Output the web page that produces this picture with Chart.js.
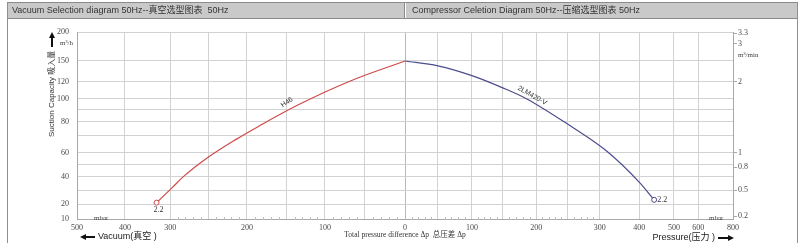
<!DOCTYPE html>
<html>
<head>
<meta charset="utf-8">
<title>Vacuum / Compressor selection diagram 50Hz</title>
<script src="https://cdn.jsdelivr.net/npm/chart.js@4.4.1/dist/chart.umd.min.js"></script>
<style>
  html, body { margin: 0; padding: 0; background: #fff; }
  #wrap { width: 800px; height: 243px; position: relative; }
  canvas { display: block; }
</style>
</head>
<body>
<div id="wrap"><canvas id="chart" width="800" height="243"></canvas></div>
<script>
// --- data ---
// vacuum side (left half): mbar below atmosphere, flow in m3/h
const redVacuum = [330, 297, 283, 251, 214, 185, 137, 69, 0];
const redFlow = [21, 32, 40, 56, 68, 77, 94, 121, 150];
// pressure side (right half): mbar over atmosphere, flow in m3/h
const bluePressure = [0, 50, 100, 150, 186, 248, 318, 400, 443];
const blueFlow = [150, 143, 129, 113, 100, 79, 61, 36, 23];

const redName = 'H46';
const blueName = '2LM420-V';
const motorPower = '2.2';

// axis ticks (vacuum drawn as negative x)
const xGridValues = [-500, -400, -300, -250, -200, -150, -100, -50, 0, 50, 100, 150, 200, 250, 300, 400, 500, 600, 800];
const xLabelValues = [-500, -400, -300, -200, -100, 0, 100, 200, 300, 400, 500, 600, 800];
const yGridValues = [10, 20, 30, 40, 50, 60, 70, 80, 90, 100, 120, 150, 200];
const yLabelValues = [10, 20, 40, 60, 80, 100, 120, 150, 200];
const y2LabelValues = [0.2, 0.5, 0.8, 1, 2, 3, 3.3];

// the printed axes are not linear: value -> fraction of the axis length
const xAxisShape = [
  [-500, 0], [-400, 0.073], [-300, 0.142], [-250, 0.2], [-200, 0.259], [-150, 0.32],
  [-100, 0.378], [-50, 0.439], [0, 0.5], [50, 0.55], [100, 0.602], [150, 0.649],
  [200, 0.7], [250, 0.748], [300, 0.797], [400, 0.857], [500, 0.91], [600, 0.947], [800, 1]
];
const yAxisShape = [
  [10, 0], [20, 0.08], [30, 0.155], [40, 0.225], [50, 0.289], [60, 0.353], [70, 0.444],
  [80, 0.519], [90, 0.583], [100, 0.642], [120, 0.733], [150, 0.845], [200, 1]
];
// right axis is the same scale in m3/min
const y2AxisShape = yAxisShape.map(([v, f]) => [v / 60, f]);
const axisShapes = { x: xAxisShape, y: yAxisShape, y2: y2AxisShape };

// small ticks along the bottom axis
const xMinorTicks = [];
for (let v = -290; v < 300; v += 10) {
  if (v % 50 !== 0) xMinorTicks.push(v);
}

function interp(knots, v) {
  if (v <= knots[0][0]) return knots[0][1];
  for (let i = 1; i < knots.length; i++) {
    const [v0, f0] = knots[i - 1];
    const [v1, f1] = knots[i];
    if (v <= v1) return f0 + (v - v0) / (v1 - v0) * (f1 - f0);
  }
  return knots[knots.length - 1][1];
}

/**
 * Piecewise linear scale, so the hand-drawn axes can be followed
 */
class PiecewiseScale extends Chart.Scale {
  determineDataLimits() {
    const k = axisShapes[this.id];
    this.min = k[0][0];
    this.max = k[k.length - 1][0];
  }
  buildTicks() {
    const values = this.id === 'x' ? xGridValues : this.id === 'y' ? yGridValues : y2LabelValues;
    return values.map(value => ({ value }));
  }
  getLabelForValue(value) {
    return String(value);
  }
  getPixelForValue(value) {
    return this.getPixelForDecimal(interp(axisShapes[this.id], value));
  }
  getValueForPixel(pixel) {
    const inverse = axisShapes[this.id].map(([v, f]) => [f, v]);
    return interp(inverse, this.getDecimalForPixel(pixel));
  }
}
PiecewiseScale.id = 'piecewise';
PiecewiseScale.defaults = {};
Chart.register(PiecewiseScale);

const SANS = '"Liberation Sans", Arial, "Noto Sans CJK SC", sans-serif';
const SERIF = '"Liberation Serif", "Times New Roman", "Noto Sans CJK SC", serif';
const GRID = '#d2d2d2';
const TICK_TEXT = '#4a4a4a';

function arrow(ctx, x1, y1, x2, y2) {
  const a = Math.atan2(y2 - y1, x2 - x1);
  ctx.save();
  ctx.strokeStyle = '#111';
  ctx.fillStyle = '#111';
  ctx.lineWidth = 2;
  ctx.beginPath();
  ctx.moveTo(x1, y1);
  ctx.lineTo(x2 - Math.cos(a) * 4, y2 - Math.sin(a) * 4);
  ctx.stroke();
  ctx.beginPath();
  ctx.moveTo(x2, y2);
  ctx.lineTo(x2 - Math.cos(a) * 6 + Math.sin(a) * 3, y2 - Math.sin(a) * 6 - Math.cos(a) * 3);
  ctx.lineTo(x2 - Math.cos(a) * 6 - Math.sin(a) * 3, y2 - Math.sin(a) * 6 + Math.cos(a) * 3);
  ctx.closePath();
  ctx.fill();
  ctx.restore();
}

// frame, title bars and the loose texts around the plot
const decorations = {
  id: 'decorations',
  beforeDraw(chart) {
    const { ctx } = chart;
    ctx.save();
    ctx.fillStyle = '#fff';
    ctx.fillRect(0, 0, chart.width, chart.height);

    // outer frame
    ctx.strokeStyle = '#8f8f8f';
    ctx.lineWidth = 1;
    ctx.beginPath();
    ctx.moveTo(7.5, 2); ctx.lineTo(7.5, 243);
    ctx.moveTo(797.5, 2); ctx.lineTo(797.5, 243);
    ctx.stroke();

    // title bars
    ctx.fillStyle = '#c9c9c9';
    ctx.fillRect(8, 2, 396, 17);
    ctx.fillRect(406, 2, 391, 17);
    ctx.strokeStyle = '#8a8a8a';
    ctx.beginPath();
    ctx.moveTo(7, 2.5); ctx.lineTo(798, 2.5);
    ctx.moveTo(7, 18.5); ctx.lineTo(798, 18.5);
    ctx.moveTo(404.5, 2); ctx.lineTo(404.5, 19);
    ctx.stroke();

    ctx.fillStyle = '#333';
    ctx.font = '9px ' + SANS;
    ctx.textBaseline = 'middle';
    ctx.fillText('Vacuum Selection diagram 50Hz--真空选型图表  50Hz', 12, 11);
    ctx.fillText('Compressor Celetion Diagram 50Hz--压缩选型图表 50Hz', 412, 11);
    ctx.restore();
  },
  afterDraw(chart) {
    const { ctx, chartArea } = chart;
    const xs = chart.scales.x;
    const ys = chart.scales.y;
    ctx.save();

    // minor ticks on the bottom axis
    ctx.strokeStyle = '#bbbbbb';
    ctx.lineWidth = 1;
    ctx.beginPath();
    xMinorTicks.forEach(v => {
      const px = Math.round(xs.getPixelForValue(v)) + 0.5;
      ctx.moveTo(px, chartArea.bottom - 2);
      ctx.lineTo(px, chartArea.bottom + 1);
    });
    ctx.stroke();

    // units
    ctx.fillStyle = '#444';
    ctx.font = '7px ' + SERIF;
    ctx.textBaseline = 'middle';
    ctx.textAlign = 'left';
    ctx.fillText('m³/h', 60, 43);
    ctx.fillText('m³/min', 738, 55);
    ctx.fillText('mbar', 94, 218);
    ctx.fillText('mbar', 709, 218);

    // left axis title with arrow
    ctx.save();
    ctx.translate(52, 137);
    ctx.rotate(-Math.PI / 2);
    ctx.fillStyle = '#333';
    ctx.font = '8px ' + SANS;
    ctx.textAlign = 'left';
    ctx.fillText('Suction Capacity 吸入量', 0, 0);
    ctx.restore();
    arrow(ctx, 52, 47, 52, 32);

    // direction hints under the axis
    ctx.fillStyle = '#222';
    ctx.font = '9px ' + SANS;
    ctx.textAlign = 'left';
    ctx.fillText('Vacuum(真空 )', 98, 237);
    arrow(ctx, 95, 237, 80, 237);
    ctx.textAlign = 'right';
    ctx.fillText('Pressure(压力 )', 715, 238);
    arrow(ctx, 718, 238, 734, 238);

    // motor power at the curve ends
    ctx.fillStyle = '#333';
    ctx.font = '8px ' + SERIF;
    ctx.textAlign = 'left';
    const rx = xs.getPixelForValue(-redVacuum[0]);
    const ry = ys.getPixelForValue(redFlow[0]);
    ctx.fillText(motorPower, rx - 3, ry + 7);
    const last = bluePressure.length - 1;
    const bx = xs.getPixelForValue(bluePressure[last]);
    const by = ys.getPixelForValue(blueFlow[last]);
    ctx.fillText(motorPower, bx + 3, by);

    // curve names, laid along the curves
    ctx.font = '7px ' + SANS;
    ctx.fillStyle = '#333';
    ctx.save();
    ctx.translate(xs.getPixelForValue(-150), ys.getPixelForValue(97));
    ctx.rotate(-0.6);
    ctx.textAlign = 'center';
    ctx.fillText(redName, 0, 0);
    ctx.restore();
    ctx.save();
    ctx.translate(xs.getPixelForValue(194), ys.getPixelForValue(104));
    ctx.rotate(0.52);
    ctx.textAlign = 'center';
    ctx.fillText(blueName, 0, 0);
    ctx.restore();

    ctx.restore();
  }
};

const endMarker = (lastIndex) => (c) => (c.dataIndex === lastIndex ? 2.5 : 0);

new Chart(document.getElementById('chart'), {
  type: 'line',
  data: {
    datasets: [
      {
        label: redName,
        data: redVacuum.map((v, i) => ({ x: -v, y: redFlow[i] })),
        borderColor: '#cf4a4a',
        borderWidth: 1.2,
        backgroundColor: '#fff',
        pointBorderColor: '#cf4a4a',
        pointBorderWidth: 1,
        pointRadius: endMarker(0),
        cubicInterpolationMode: 'monotone',
        fill: false,
        yAxisID: 'y'
      },
      {
        label: blueName,
        data: bluePressure.map((v, i) => ({ x: v, y: blueFlow[i] })),
        borderColor: '#4c4c8e',
        borderWidth: 1.2,
        backgroundColor: '#fff',
        pointBorderColor: '#4c4c8e',
        pointBorderWidth: 1,
        pointRadius: endMarker(bluePressure.length - 1),
        cubicInterpolationMode: 'monotone',
        fill: false,
        yAxisID: 'y'
      }
    ]
  },
  options: {
    responsive: false,
    animation: false,
    events: [],
    devicePixelRatio: 1,
    layout: { padding: { top: 32, left: 0, right: 0, bottom: 0 } },
    plugins: {
      legend: { display: false },
      tooltip: { enabled: false }
    },
    scales: {
      x: {
        type: 'piecewise',
        position: 'bottom',
        afterFit(s) { s.height = 24; },
        grid: {
          color: (c) => (c.tick && c.tick.value === 0 ? '#b8b8b8' : GRID),
          drawTicks: false
        },
        border: { color: '#a8a8a8' },
        ticks: {
          autoSkip: false,
          maxRotation: 0,
          padding: 4,
          color: TICK_TEXT,
          font: { family: SERIF, size: 8 },
          callback: (v) => (xLabelValues.includes(v) ? String(Math.abs(v)) : '')
        },
        title: {
          display: true,
          text: 'Total pressure difference Δp  总压差 Δp',
          color: '#333',
          font: { family: SERIF, size: 7.5 },
          padding: { top: 0, bottom: 3 }
        }
      },
      y: {
        type: 'piecewise',
        position: 'left',
        afterFit(s) { s.width = 77; },
        grid: { color: GRID, drawTicks: false },
        border: { color: '#a8a8a8' },
        ticks: {
          autoSkip: false,
          padding: 8,
          color: TICK_TEXT,
          font: { family: SERIF, size: 8 },
          callback: (v) => (yLabelValues.includes(v) ? String(v) : '')
        }
      },
      y2: {
        type: 'piecewise',
        position: 'right',
        afterFit(s) { s.width = 67; },
        grid: { drawOnChartArea: false, color: '#a8a8a8', tickLength: 4 },
        border: { color: '#a8a8a8' },
        ticks: {
          autoSkip: false,
          padding: 1,
          color: TICK_TEXT,
          font: { family: SERIF, size: 8 },
          callback: (v) => String(v)
        }
      }
    }
  },
  plugins: [decorations]
});
</script>
</body>
</html>
